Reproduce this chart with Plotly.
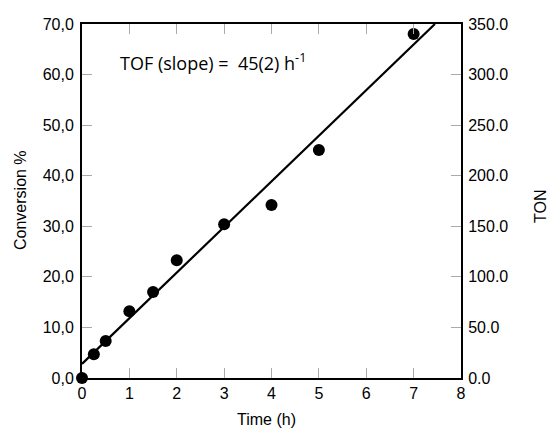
import plotly.graph_objects as go

# data
time_h = [0, 0.25, 0.5, 1, 1.5, 2, 3, 4, 5, 7]
conversion = [0, 4.7, 7.3, 13.2, 17.0, 23.3, 30.4, 34.2, 45.1, 68.0]

# linear fit line (end points as drawn)
fit_x = [0, 7.45]
fit_y = [2.8, 70.0]

conv_ticks = [0, 10, 20, 30, 40, 50, 60, 70]
conv_labels = ["0,0", "10,0", "20,0", "30,0", "40,0", "50,0", "60,0", "70,0"]
ton_ticks = [0, 50, 100, 150, 200, 250, 300, 350]
ton_labels = ["0.0", "50.0", "100.0", "150.0", "200.0", "250.0", "300.0", "350.0"]

fig = go.Figure()

fig.add_trace(go.Scatter(
    x=fit_x, y=fit_y, mode="lines",
    line=dict(color="black", width=2.2),
    showlegend=False, hoverinfo="skip",
))
fig.add_trace(go.Scatter(
    x=time_h, y=conversion, mode="markers",
    marker=dict(color="black", size=12),
    cliponaxis=False, showlegend=False,
))
# invisible trace to carry the TON axis
fig.add_trace(go.Scatter(
    x=[0], y=[0], yaxis="y2", mode="markers",
    marker=dict(opacity=0), showlegend=False, hoverinfo="skip",
))

tick_font = dict(family="Liberation Sans, Arial, sans-serif", size=16, color="black")

axis_common = dict(
    ticks="inside", ticklen=10, tickcolor="#aaaaaa", tickwidth=1,
    showline=True, linecolor="black", linewidth=2,
    showgrid=False, zeroline=False, tickfont=tick_font, automargin=False,
)

fig.update_layout(
    width=551, height=428,
    margin=dict(l=82, r=90, t=24, b=50),
    plot_bgcolor="white", paper_bgcolor="white",
    font=tick_font,
    xaxis=dict(range=[0, 8], tickvals=list(range(9)), mirror="ticks", **axis_common),
    yaxis=dict(range=[0, 70], tickvals=conv_ticks, ticktext=conv_labels,
               ticklabelstandoff=3, **axis_common),
    yaxis2=dict(range=[0, 350], tickvals=ton_ticks, ticktext=ton_labels,
                overlaying="y", side="right", ticklabelstandoff=2, **axis_common),
)


def paper(sx, sy):
    # screen pixel -> paper coords (plot area spans 82..461 x 24..378)
    return (sx - 82) / 379, (378 - sy) / 354


titles = [("Conversion %", 20, 200, -90), ("TON", 541, 207, -90), ("Time (h)", 266, 419, 0)]
for text, sx, sy, ang in titles:
    px_, py_ = paper(sx, sy)
    fig.add_annotation(x=px_, y=py_, xref="paper", yref="paper", text=text,
                       showarrow=False, textangle=ang, font=tick_font,
                       xanchor="center", yanchor="middle")

fig.add_annotation(x=0.75, y=62.5, xref="x", yref="y", xanchor="left", yanchor="middle",
                   text="TOF (slope) =  45(2) h<sup>-1</sup>", showarrow=False,
                   font=dict(family="Open Sans, sans-serif", size=18, color="black"))

# drop the default 8px page margin so the figure fills the window exactly
fig.write_html("out.html", config={"displayModeBar": False},
               post_script="document.body.style.margin='0';"
                           "document.body.style.overflow='hidden';")
